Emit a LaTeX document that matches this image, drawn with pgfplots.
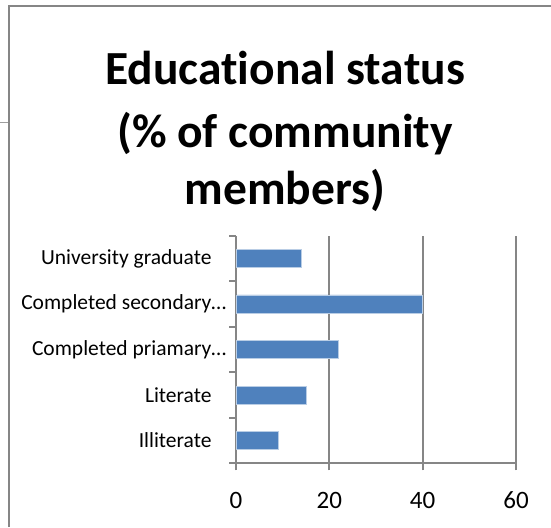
\documentclass[border=0pt]{standalone}
\usepackage{fontspec}
\setmainfont{Carlito}[Ligatures={NoCommon}]
\usepackage{pgfplots}
\pgfplotsset{compat=1.18}
\definecolor{barblue}{HTML}{4F81BD}
\definecolor{baredge}{HTML}{B9CDE5}
\definecolor{axgray}{HTML}{868686}
\begin{document}
\begin{tikzpicture}[x=1pt,y=1pt]
\useasboundingbox (0,0) rectangle (551,527);
\draw[axgray, line width=2pt] (8.5,0) -- (8.5,520.5) -- (551,520.5);
\draw[axgray!80, line width=1.6pt] (0,404.5) -- (8,404.5);
\node[anchor=base, inner sep=0pt, font=\bfseries\fontsize{47.5}{56}\selectfont] at (285,442) {Educational status};
\node[anchor=base, inner sep=0pt, font=\bfseries\fontsize{47.5}{56}\selectfont] at (285,379) {(\% of community};
\node[anchor=base, inner sep=0pt, font=\bfseries\fontsize{47.5}{56}\selectfont] at (285,322) {members)};
\begin{axis}[
  at={(236pt,63.7pt)}, anchor=south west,
  scale only axis, width=280pt, height=227.6pt,
  xmin=0, xmax=60, ymin=-0.5, ymax=4.5,
  xbar, bar width=18pt,
  xtick={0,20,40,60},
  ytick={0,1,2,3,4},
  yticklabels={Illiterate, Literate, Completed priamary\rlap{…}, Completed secondary\rlap{…}, University graduate},
  minor ytick={-0.5,0.5,1.5,2.5,3.5,4.5},
  major y tick style={draw=none},
  axis x line*=bottom, axis y line*=left,
  axis line style={axgray, line width=2pt, -},
  xmajorgrids, grid style={axgray, line width=2pt},
  tick style={axgray, line width=2pt},
  tick align=outside,
  major tick length=7pt, minor tick length=7pt,
  xticklabel style={font=\fontsize{25}{30}\selectfont, yshift=-18pt},
  yticklabel style={font=\fontsize{21.5}{25}\selectfont, xshift=-14pt},
  /pgf/number format/assume math mode=true,
]
\addplot[fill=barblue, draw=baredge, line width=0.6pt] coordinates {(9,0) (15,1) (22,2) (40,3) (14,4)};
\end{axis}
\end{tikzpicture}
\end{document}
